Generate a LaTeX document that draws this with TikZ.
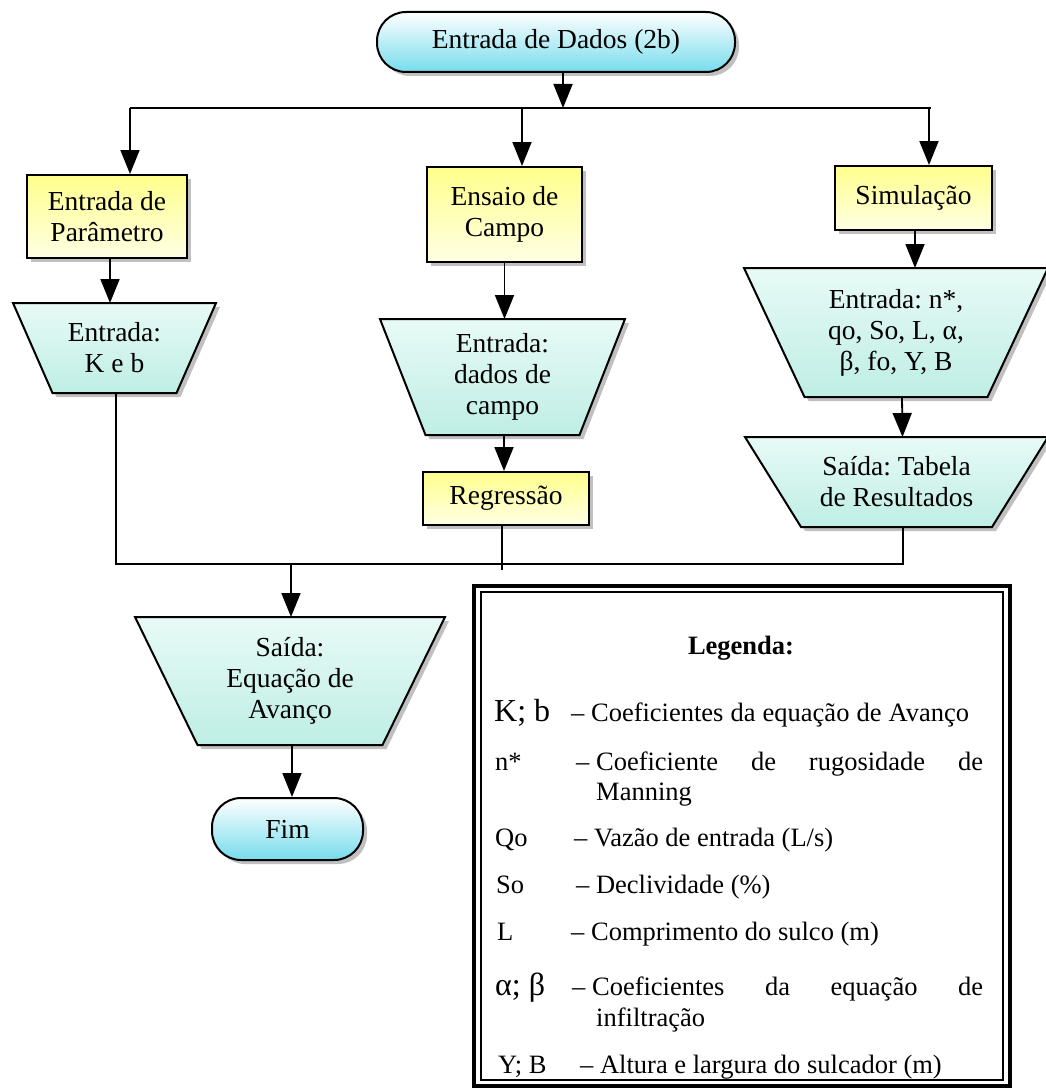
\documentclass[tikz,border=0pt]{standalone}
\usepackage{fontspec}
\setmainfont{Liberation Serif}
\usetikzlibrary{arrows.meta,shadows,calc}
\frenchspacing

\definecolor{boxtop}{RGB}{255,255,140}
\definecolor{boxbot}{RGB}{255,255,228}
\definecolor{trtop}{RGB}{232,250,246}
\definecolor{trbot}{RGB}{190,238,228}
\definecolor{termbot}{RGB}{118,220,236}
\definecolor{shadowgray}{RGB}{150,150,150}

% inverted trapezoid: name, centre x, top y, bottom y, half top width, half bottom width, text
\newcommand\trapbox[7]{%
  \fill[shadowgray,opacity=0.6] ({#2-#5+4},{#3+4}) -- ({#2+#5+4},{#3+4}) -- ({#2+#6+4},{#4+4}) -- ({#2-#6+4},{#4+4}) -- cycle;
  \shadedraw[trapfill] ({#2-#5},{#3}) -- ({#2+#5},{#3}) -- ({#2+#6},{#4}) -- ({#2-#6},{#4}) -- cycle;
  \coordinate (#1-top) at ({#2},{#3});
  \coordinate (#1-bot) at ({#2},{#4});
  \node[txt] (#1) at ({#2},{(#3+#4)/2}) {#7};
}

\begin{document}
\begin{tikzpicture}[x=1pt,y=-1pt,
  txt/.style={align=center,inner sep=0pt,font=\fontsize{27.5}{31}\selectfont},
  shadowed/.style={drop shadow={shadow xshift=4pt,shadow yshift=-4pt,fill=shadowgray,opacity=0.6}},
  yellowbox/.style={txt,draw,line width=2pt,top color=boxtop,bottom color=boxbot,shadowed},
  term/.style={txt,draw,line width=2pt,top color=white,bottom color=termbot,shadowed},
  trapfill/.style={draw=black,line width=2pt,top color=trtop,bottom color=trbot},
  ln/.style={line width=1.8pt},
  arr/.style={line width=1.8pt,-{Triangle[width=19pt,length=24pt]}},
  sym/.style={anchor=base west,inner sep=0pt,font=\fontsize{26.5}{30}\selectfont},
  bigsym/.style={sym,font=\fontsize{32}{36}\selectfont},
  desc/.style={anchor=base west,inner sep=0pt,font=\fontsize{26.5}{30}\selectfont}]
\useasboundingbox (0,0) rectangle (1046,1089);

% start terminal and the three branches
\node[term,minimum width=358pt,minimum height=60pt,rounded corners=29pt] (start) at (556,42) {Entrada de Dados (2b)};
\coordinate (bTop) at (563,108);
\coordinate (bL) at (130,108);
\coordinate (bM) at (522,108);
\coordinate (bR) at (931,108);
\draw[arr] (bTop |- start.south) -- (bTop);
\draw[ln] (bL) -- (bR);

\node[yellowbox,minimum width=160pt,minimum height=83pt] (p1) at (107,216.5) {Entrada de\\Parâmetro};
\node[yellowbox,minimum width=155pt,minimum height=95pt] (p2) at (504.5,214.5) {Ensaio de\\Campo};
\node[yellowbox,minimum width=157pt,minimum height=64pt] (p3) at (913.5,198) {Simulação};

\draw[arr] (bL) -- (bL |- p1.north);
\draw[arr] (bM) -- (bM |- p2.north);
\draw[arr] ($(bR)+(-2,0)$) -- ($(bR |- p3.north)+(-2,0)$);

% input / output trapezoids
\trapbox{t1}{114.5}{303}{393}{101.5}{62}{Entrada:\\K e b}
\trapbox{t2}{502.5}{319}{435}{122.5}{77}{Entrada:\\dados de\\campo}
\trapbox{t3}{896}{268}{397}{152}{91.5}{Entrada: n*,\\qo, So, L, α,\\β, fo, Y, B}
\trapbox{t4}{896.5}{437}{527}{151.5}{95.5}{Saída: Tabela\\de Resultados}
\trapbox{t5}{290}{617}{745}{155}{92.5}{Saída:\\Equação de\\Avanço}

\node[yellowbox,minimum width=166pt,minimum height=53pt] (reg) at (506,498.5) {Regressão};

\draw[arr] ($(p1.south)+(3,0)$) -- ($(p1.south |- t1-top)+(3,0)$);
\draw[arr] (p2.south) -- (p2.south |- t2-top);
\draw[arr] ($(t2-bot)+(1.5,0)$) -- ($(t2-bot |- reg.north)+(1.5,0)$);
\draw[arr] ($(p3.south)+(1.5,0)$) -- ($(p3.south |- t3-top)+(1.5,0)$);
\draw[arr] ($(t3-bot)+(6,0)$) -- ($(t4-top)+(6,0)$);

% merging lines
\coordinate (m1) at (116,564);
\coordinate (m2) at (291,564);
\coordinate (m3) at (903,564);
\draw[ln] ($(t1-bot)+(1.5,0)$) -- (m1) -- (m3) -- (m3 |- t4-bot);
\draw[ln] ($(reg.south)+(-4,0)$) -- ($(reg.south |- m2)+(-4,6)$);
\draw[arr] (m2) -- (m2 |- t5-top);

\node[term,minimum width=151pt,minimum height=62pt,rounded corners=29pt] (fim) at (287.5,829) {Fim};
\draw[arr] ($(t5-bot)+(2,0)$) -- ($(t5-bot |- fim.north)+(2,0)$);

% legend frame
\draw[line width=3.5pt] (474,586) rectangle (1010,1086);
\draw[line width=1.5pt] (481,592) rectangle (1003,1080);

\node[txt,font=\fontsize{26.5}{30}\selectfont\bfseries] (leghead) at (741,648) {Legenda:};

\node[bigsym] (sK) at (494,721) {K; b};
\node[desc] (dK) at (571,721) {– \makebox[378pt][s]{Coeficientes da equação de Avanço}};

\node[sym] (sN) at (495,770) {n*};
\node[desc] (dN) at (576,770) {– \makebox[387pt][s]{Coeficiente de rugosidade de}};
\node[desc] (dN2) at (596,800) {Manning};

\node[sym] (sQ) at (495,846) {Qo};
\node[desc] (dQ) at (574,846) {– Vazão de entrada (L/s)};

\node[sym] (sS) at (496,893) {So};
\node[desc] (dS) at (576,893) {– Declividade (\%)};

\node[sym] (sL) at (497,940) {L};
\node[desc] (dL) at (571,940) {– Comprimento do sulco (m)};

\node[bigsym] (sA) at (495,995) {α; β};
\node[desc] (dA) at (572,995) {– \makebox[391pt][s]{Coeficientes da equação de}};
\node[desc] (dA2) at (596,1026) {infiltração};

\node[sym] (sY) at (498,1073) {Y; B};
\node[desc] (dY) at (580,1073) {– Altura e largura do sulcador (m)};
\end{tikzpicture}
\end{document}
